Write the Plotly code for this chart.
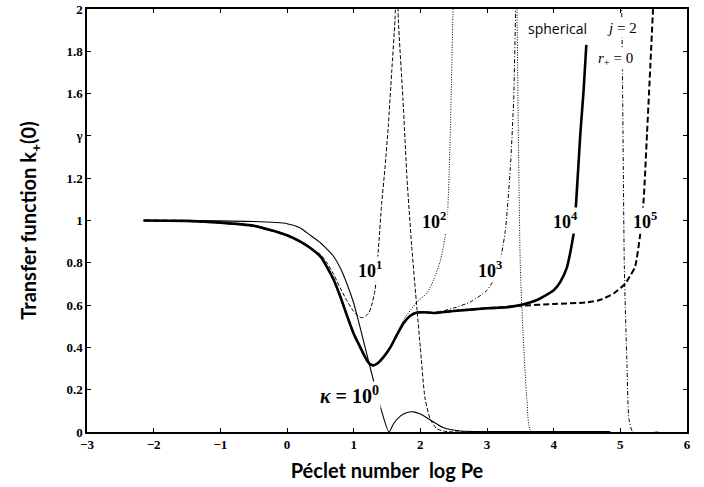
import plotly.graph_objects as go

# ---- data (log Pe, k+(0)) ----
x_k0 = [-2.15, -1.0, -0.5, 0.0, 0.2, 0.35, 0.5, 0.6, 0.7, 0.8, 0.9, 1.0, 1.1, 1.2, 1.3, 1.4, 1.53,
        1.6, 1.7, 1.8, 1.9, 2.0, 2.15, 2.35, 2.6, 3.0, 4.85]
y_k0 = [1.0, 0.998, 0.995, 0.985, 0.965, 0.93, 0.895, 0.865, 0.83, 0.775, 0.70, 0.61, 0.49, 0.365, 0.24, 0.12, 0.0,
        0.04, 0.075, 0.092, 0.095, 0.085, 0.057, 0.02, 0.005, 0.002, 0.002]

x_k1 = [-2.15, -1.5, -1.0, -0.5, -0.25, 0.0, 0.2, 0.35, 0.5, 0.6, 0.7, 0.8, 0.9, 1.0, 1.07, 1.12,
        1.18, 1.23, 1.27, 1.32, 1.37, 1.42, 1.47, 1.52, 1.57, 1.62, 1.64, None,
        1.655, 1.67, 1.74, 1.8, 1.87, 1.95, 2.0, 2.07, 2.15, 2.25, 2.4, 3.0, 4.85]
y_k1 = [1.0, 0.998, 0.99, 0.975, 0.955, 0.93, 0.9, 0.87, 0.84, 0.80, 0.745, 0.68, 0.62, 0.57, 0.548, 0.54,
        0.548, 0.565, 0.6, 0.67, 0.86, 1.08, 1.25, 1.45, 1.7, 1.95, 2.15, None,
        2.15, 1.95, 1.57, 1.2, 0.88, 0.58, 0.40, 0.16, 0.06, 0.015, 0.002, 0.001, 0.001]

x_k2 = [-2.15, -1.5, -1.0, -0.5, -0.25, 0.0, 0.2, 0.35, 0.5, 0.6, 0.7, 0.8, 0.9, 1.0, 1.1, 1.17,
        1.23, 1.29, 1.36, 1.45, 1.55, 1.65, 1.75, 1.85, 1.95, 2.1, 2.2, 2.3, 2.37, 2.41, 2.44,
        2.47, 2.49, 2.5, None, 3.44, 3.45, 3.47, 3.5, 3.54, 3.6, 3.67, 4.85]
y_k2 = [1.0, 0.998, 0.99, 0.975, 0.955, 0.93, 0.9, 0.87, 0.83, 0.78, 0.72, 0.64, 0.55, 0.465, 0.40, 0.355,
        0.325, 0.315, 0.325, 0.355, 0.40, 0.465, 0.53, 0.575, 0.615, 0.657, 0.72, 0.81, 0.92, 1.05, 1.3,
        1.7, 2.0, 2.15, None, 2.15, 2.0, 1.41, 0.78, 0.47, 0.15, 0.0, 0.0]

x_k3 = [-2.15, -1.5, -1.0, -0.5, -0.25, 0.0, 0.2, 0.35, 0.5, 0.6, 0.7, 0.8, 0.9, 1.0, 1.1, 1.17,
        1.23, 1.29, 1.36, 1.45, 1.55, 1.65, 1.75, 1.85, 1.95, 2.05, 2.2, 2.5, 2.75, 3.0, 3.15,
        3.27, 3.35, 3.4, 3.43, 3.445, None, 5.0, 5.02, 5.04, 5.06, 5.1, 5.13, 5.19, 5.57]
y_k3 = [1.0, 0.998, 0.99, 0.975, 0.955, 0.93, 0.9, 0.87, 0.83, 0.78, 0.72, 0.64, 0.55, 0.465, 0.40, 0.355,
        0.325, 0.315, 0.325, 0.355, 0.40, 0.46, 0.515, 0.55, 0.565, 0.566, 0.563, 0.586, 0.615, 0.67, 0.75,
        0.94, 1.25, 1.57, 2.0, 2.15, None, 2.15, 2.0, 1.41, 0.78, 0.31, 0.06, 0.0, 0.0]

x_k4 = [-2.15, -1.5, -1.0, -0.5, -0.25, 0.0, 0.2, 0.35, 0.5, 0.6, 0.7, 0.8, 0.9, 1.0, 1.1, 1.17,
        1.23, 1.29, 1.36, 1.45, 1.55, 1.65, 1.75, 1.85, 1.95, 2.05, 2.2, 2.5, 3.0, 3.3, 3.5, 3.75,
        4.0, 4.1, 4.2, 4.3, 4.34, 4.4, 4.45, 4.49]
y_k4 = [1.0, 0.998, 0.99, 0.975, 0.955, 0.93, 0.9, 0.87, 0.83, 0.78, 0.72, 0.64, 0.55, 0.465, 0.40, 0.355,
        0.325, 0.315, 0.325, 0.355, 0.40, 0.46, 0.515, 0.55, 0.565, 0.566, 0.563, 0.572, 0.585, 0.59, 0.60, 0.624,
        0.67, 0.71, 0.78, 0.94, 1.10, 1.41, 1.62, 1.83]

x_k5 = [-2.15, -1.5, -1.0, -0.5, -0.25, 0.0, 0.2, 0.35, 0.5, 0.6, 0.7, 0.8, 0.9, 1.0, 1.1, 1.17,
        1.23, 1.29, 1.36, 1.45, 1.55, 1.65, 1.75, 1.85, 1.95, 2.05, 2.2, 2.5, 3.0, 3.5, 4.0, 4.5,
        4.7, 4.9, 5.07, 5.15, 5.22, 5.3, 5.35, 5.4, 5.45, 5.49, 5.51]
y_k5 = [1.0, 0.998, 0.99, 0.975, 0.955, 0.93, 0.9, 0.87, 0.83, 0.78, 0.72, 0.64, 0.55, 0.465, 0.40, 0.355,
        0.325, 0.315, 0.325, 0.355, 0.40, 0.46, 0.515, 0.55, 0.565, 0.566, 0.563, 0.572, 0.585, 0.597, 0.605, 0.613,
        0.625, 0.655, 0.70, 0.74, 0.78, 0.94, 1.10, 1.41, 1.73, 2.0, 2.15]

x_tickvals = [-3, -2, -1, 0, 1, 2, 3, 4, 5, 6]
x_ticktext = ["\u22123", "\u22122", "\u22121", "0", "1", "2", "3", "4", "5", "6"]
y_tickvals = [0, 0.2, 0.4, 0.6, 0.8, 1.0, 1.2, 1.4, 1.6, 1.8, 2.0]
y_ticktext = ["0", "0.2", "0.4", "0.6", "0.8", "1", "1.2", "\u03b3", "1.6", "1.8", "2"]

curve_labels = ["<b>10<sup>1</sup></b>", "<b>10<sup>2</sup></b>", "<b>10<sup>3</sup></b>",
                "<b>10<sup>4</sup></b>", "<b>10<sup>5</sup></b>"]
label_x = [1.245, 2.2, 3.045, 4.17, 5.37]
label_y = [0.766, 1.0, 0.766, 1.0, 1.0]

fig = go.Figure()

def add(x, y, width, dash, name):
    fig.add_trace(go.Scatter(x=x, y=y, mode="lines", name=name, connectgaps=False,
                             line=dict(color="black", width=width, dash=dash,
                                       shape="spline", smoothing=0.6)))

add(x_k1, y_k1, 1.0, "4px,2px", "10^1")
add(x_k2, y_k2, 1.0, "1px,1.5px", "10^2")
add(x_k3, y_k3, 1.0, "4px,2px,1px,2px", "10^3")
add(x_k5, y_k5, 2.0, "6px,3px", "10^5")
add(x_k4, y_k4, 2.6, "solid", "10^4")
add(x_k0, y_k0, 1.1, "solid", "10^0")

serif = "Liberation Serif"
for t, xx, yy in zip(curve_labels, label_x, label_y):
    fig.add_annotation(x=xx, y=yy, text=t, showarrow=False, bgcolor="white", borderpad=1,
                       font=dict(family=serif, size=18, color="black"))

fig.add_annotation(x=0.93, y=0.175, text="<b><i>\u03ba</i> = 10<sup>0</sup></b>", showarrow=False,
                   bgcolor="white", borderpad=1,
                   font=dict(family=serif, size=20, color="black"))
fig.add_annotation(x=4.05, y=1.91, text="spherical", showarrow=False, bgcolor="white",
                   font=dict(family="Open Sans", size=14, color="black"))
fig.add_annotation(x=5.02, y=1.91, text="<i>j</i> = 2", showarrow=False, bgcolor="white",
                   font=dict(family=serif, size=15, color="black"))
fig.add_annotation(x=4.92, y=1.765, text="<i>r</i><sub>+</sub> = 0", showarrow=False, bgcolor="white",
                   font=dict(family=serif, size=15, color="black"))

axis_common = dict(showgrid=False, zeroline=False, showline=True, linecolor="black", linewidth=1.5,
                   mirror="ticks", ticks="inside", ticklen=4, tickcolor="black", tickwidth=1,
                   automargin=False,
                   tickfont=dict(family=serif, size=13, color="black"))

fig.update_xaxes(range=[-3, 6], tickvals=x_tickvals, ticktext=[f"<b>{t}</b>" for t in x_ticktext],
                 title=dict(text="<b>Péclet number\u00a0\u00a0log Pe</b>", standoff=13,
                            font=dict(family="Lato", size=20, color="black")),
                 **axis_common)
fig.update_yaxes(range=[0, 2], tickvals=y_tickvals, ticktext=[f"<b>{t}</b>" for t in y_ticktext],
                 title=dict(text="<b>Transfer function k<sub>+</sub>(0)</b>", standoff=24,
                            font=dict(family="Lato", size=20, color="black")),
                 **axis_common)

fig.update_layout(width=704, height=487, margin=dict(l=87, r=17, t=9, b=55),
                  paper_bgcolor="white", plot_bgcolor="white", showlegend=False)

fig.write_html("out.html", config={"displayModeBar": False},
               post_script="document.body.style.margin='0px';document.body.style.overflow='hidden';")
